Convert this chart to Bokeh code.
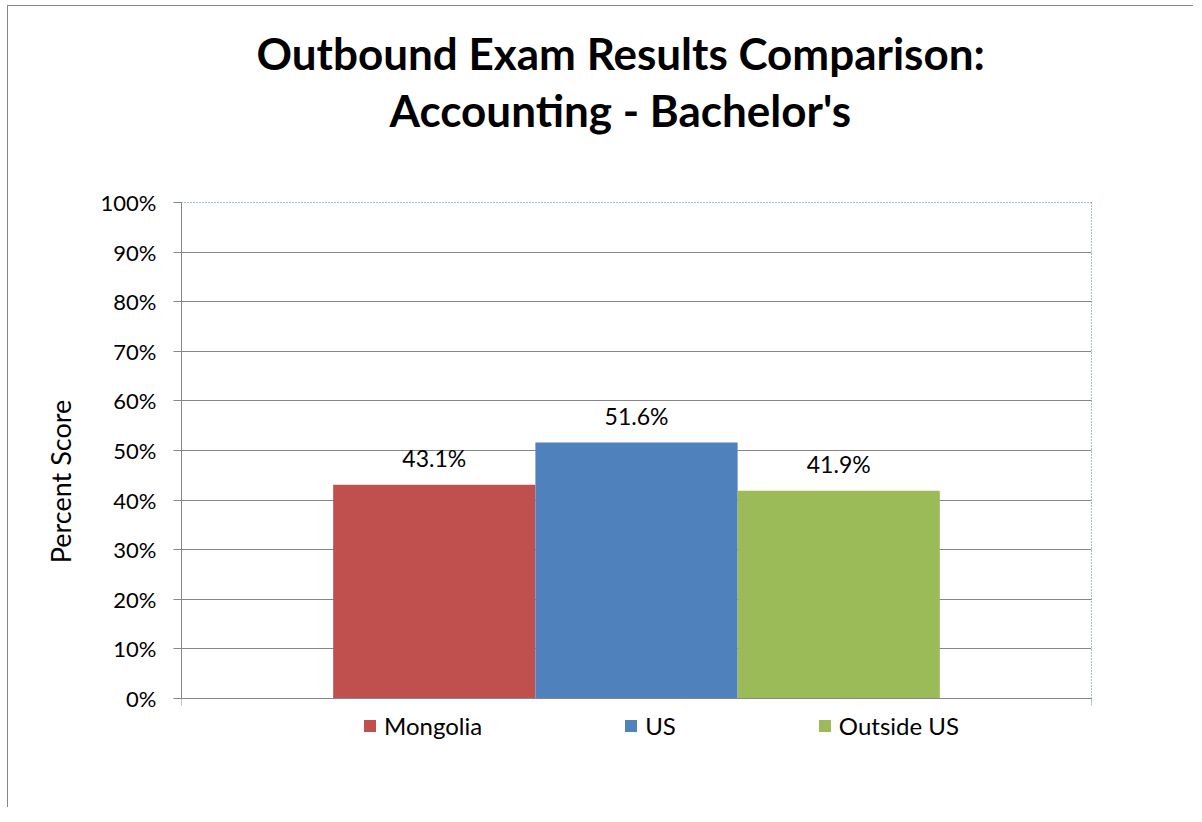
from bokeh.plotting import figure
from bokeh.models import (ColumnDataSource, Range1d, FixedTicker, NumeralTickFormatter,
                          Title, CustomJSTickFormatter, LinearAxis)
from bokeh.embed import file_html
from bokeh.resources import INLINE
from bokeh.core.properties import value

# ---- data ----
title_lines = ["Outbound Exam Results Comparison:", "Accounting - Bachelor's"]
categories = ["Mongolia", "US", "Outside US"]
scores = [0.431, 0.516, 0.419]
colors = ["#C0504D", "#4F81BD", "#9BBB59"]
y_ticks = [0.0, 0.1, 0.2, 0.3, 0.4, 0.5, 0.6, 0.7, 0.8, 0.9, 1.0]
y_label = "Percent Score"

FONT = "Lato"
GRAY = "#868686"
BLUE = "#4F81BD"

positions = list(range(len(categories)))
labels = [f"{v * 100:.1f}%" for v in scores]
src = ColumnDataSource(dict(x=positions, top=scores, cat=categories, color=colors, label=labels))

# plot frame extends below 0% so that the legend row sits inside it
p = figure(frame_width=910, frame_height=558, output_backend="svg", toolbar_location=None,
           x_range=Range1d(-1.25, 3.25), y_range=Range1d(-0.125, 1),
           min_border_left=173, min_border_right=103, min_border_top=196, min_border_bottom=48,
           title=None)
p.styles = {"margin-left": "8px", "margin-top": "6px",
            "box-shadow": "-1px -1px 0 0 #868686"}
p.background_fill_color = "white"
p.border_fill_color = "white"
p.outline_line_color = None

# y axis (line only over 0..100%)
p.yaxis.bounds = (0, 1)
p.yaxis.ticker = FixedTicker(ticks=y_ticks)
p.yaxis.formatter = NumeralTickFormatter(format="0%")
p.yaxis.axis_line_color = GRAY
p.yaxis.major_tick_line_color = GRAY
p.yaxis.major_tick_out = 8
p.yaxis.major_tick_in = 0
p.yaxis.minor_tick_line_color = None
p.yaxis.major_label_text_font = FONT
p.yaxis.major_label_text_font_size = "22px"
p.yaxis.major_label_text_color = "black"
p.yaxis.major_label_standoff = 17
p.yaxis.axis_label = y_label
p.yaxis.axis_label_text_font = FONT
p.yaxis.axis_label_text_font_size = "27px"
p.yaxis.axis_label_text_font_style = "normal"
p.yaxis.axis_label_text_color = "black"
p.yaxis.axis_label_standoff = 21

# x axis, pinned at 0%
p.xaxis.fixed_location = 0
p.xaxis.ticker = FixedTicker(ticks=[-1.25, 3.25])
p.xaxis.formatter = CustomJSTickFormatter(code="return ''")
p.xaxis.axis_line_color = GRAY
p.xaxis.major_tick_line_color = GRAY
p.xaxis.major_tick_out = 7
p.xaxis.major_tick_in = 0
p.xaxis.minor_tick_line_color = None
p.xaxis.major_label_standoff = 0

# dotted plot-area border on the right (0..100%)
right_border = LinearAxis(bounds=(0, 1), ticker=FixedTicker(ticks=[]),
                          formatter=CustomJSTickFormatter(code="return ''"),
                          axis_line_color=BLUE, axis_line_dash="1 2",
                          major_tick_line_color=None, minor_tick_line_color=None,
                          major_tick_out=0, major_tick_in=0)
p.add_layout(right_border, "right")

# grids
p.xgrid.visible = False
p.ygrid.ticker = FixedTicker(ticks=y_ticks)
p.ygrid.grid_line_color = GRAY
p.ygrid.grid_line_width = 1

# bars
p.vbar(x="x", top="top", bottom=0, width=1, source=src, fill_color="color",
       line_color=None, legend_field="cat")

# data labels
p.text(x="x", y="top", text="label", source=src, text_align="center",
       text_baseline="alphabetic", y_offset=-27, text_font=value(FONT),
       text_font_size="23px", text_color="black")

# legend row under the 0% line
lg = p.legend[0]
lg.orientation = "horizontal"
lg.location = (181, 20)
lg.glyph_width = 15
lg.glyph_height = 15
lg.label_standoff = 7
lg.spacing = 141
lg.padding = 0
lg.margin = 0
lg.border_line_color = None
lg.background_fill_alpha = 0
lg.label_text_font = FONT
lg.label_text_font_size = "24px"
lg.label_text_color = "black"

# spacer between plot area and title; its line is the dotted top border
spacer = LinearAxis(ticker=FixedTicker(ticks=[-1.25]),
                    formatter=CustomJSTickFormatter(code="return ''"),
                    axis_line_color=BLUE, axis_line_dash="1 2",
                    major_tick_line_color=None, minor_tick_line_color=None,
                    major_tick_out=65, major_tick_in=0, major_label_standoff=0)
p.add_layout(spacer, "above")

# title: two lines; the first added sits nearest the plot
p.add_layout(Title(text=title_lines[1], align="left", offset=208, text_font=FONT,
                   text_font_size="44px", text_font_style="bold", text_color="black",
                   standoff=4), "above")
p.add_layout(Title(text=title_lines[0], align="left", offset=75, text_font=FONT,
                   text_font_size="44px", text_font_style="bold", text_color="black",
                   standoff=2), "above")

open("out.html", "w").write(file_html(p, INLINE))
